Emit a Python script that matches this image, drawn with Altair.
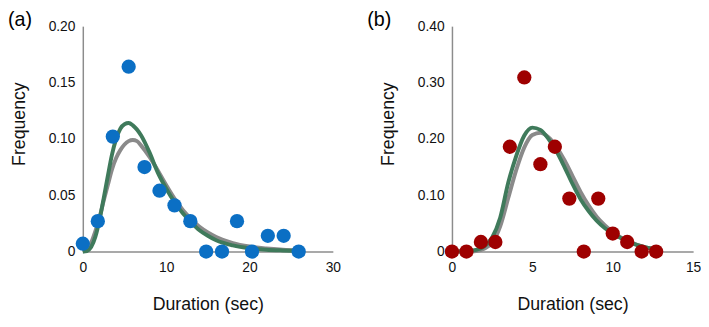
import altair as alt
import pandas as pd

# ---------- Panel (a) data ----------
a_pts_x = [0, 1.8, 3.6, 5.5, 7.4, 9.2, 11.0, 12.9, 14.8, 16.7, 18.5, 20.3, 22.2, 24.1, 25.9]
a_pts_y = [0.007, 0.027, 0.102, 0.164, 0.075, 0.054, 0.041, 0.027, 0, 0, 0.027, 0, 0.014, 0.014, 0]

a_green_x = [0, 0.5, 1, 1.5, 2, 2.5, 3, 3.5, 4, 4.5, 5, 5.5, 6, 7, 8, 9, 10, 11, 12, 13, 14, 15, 16, 18, 20, 22, 24, 26]
a_green_y = [0, 0.0005, 0.004, 0.013, 0.028, 0.047, 0.067, 0.086, 0.100, 0.109, 0.113, 0.114, 0.112, 0.103,
             0.088, 0.070, 0.056, 0.044, 0.034, 0.026, 0.019, 0.014, 0.010, 0.0055, 0.003, 0.0017, 0.001, 0.0005]

a_gray_x = [0, 0.5, 1, 1.5, 2, 2.5, 3, 3.5, 4, 4.5, 5, 5.5, 6, 6.5, 7, 8, 9, 10, 11, 12, 13, 14, 15, 16, 18, 20, 22, 24, 26]
a_gray_y = [0, 0.002, 0.008, 0.018, 0.030, 0.045, 0.059, 0.073, 0.083, 0.090, 0.095, 0.098, 0.099, 0.098,
            0.094, 0.084, 0.072, 0.059, 0.047, 0.037, 0.029, 0.022, 0.017, 0.013, 0.0075, 0.0045, 0.0028, 0.0017, 0.001]

# ---------- Panel (b) data ----------
b_pts_x = [0, 0.9, 1.8, 2.7, 3.6, 4.5, 5.5, 6.4, 7.3, 8.2, 9.1, 10.0, 10.9, 11.8, 12.7]
b_pts_y = [0, 0, 0.017, 0.017, 0.186, 0.309, 0.155, 0.186, 0.094, 0, 0.094, 0.032, 0.017, 0, 0]

b_green_x = [0, 1, 1.5, 2, 2.5, 3, 3.5, 4, 4.5, 5, 5.5, 6, 6.5, 7, 7.5, 8, 8.5, 9, 9.5, 10, 10.5, 11, 12, 13]
b_green_y = [0, 0.001, 0.003, 0.009, 0.025, 0.060, 0.122, 0.170, 0.206, 0.220, 0.216, 0.200, 0.178, 0.150,
             0.120, 0.093, 0.072, 0.055, 0.042, 0.032, 0.024, 0.017, 0.008, 0.003]

b_gray_x = [0, 1, 1.5, 2, 2.5, 3, 3.5, 4, 4.5, 5, 5.5, 6, 6.5, 7, 7.5, 8, 8.5, 9, 9.5, 10, 10.5, 11, 12, 13]
b_gray_y = [0, 0, 0.001, 0.005, 0.016, 0.045, 0.095, 0.145, 0.185, 0.207, 0.211, 0.203, 0.186, 0.162,
            0.134, 0.106, 0.082, 0.062, 0.047, 0.035, 0.025, 0.018, 0.008, 0.003]

a_xticks = [0, 10, 20, 30]
a_yticks = [0, 0.05, 0.10, 0.15, 0.20]
b_xticks = [0, 5, 10, 15]
b_yticks = [0, 0.10, 0.20, 0.30, 0.40]

panel_labels = ["(a)", "(b)"]
x_title = "Duration (sec)"
y_title = "Frequency"

FONT = "Liberation Sans"
GREEN = "#3f7a5b"
GRAY = "#8a8a8a"
BLUE = "#0b6fc4"
RED = "#9e0000"

label_expr = "datum.value == 0 ? '0' : format(datum.value, '.2f')"


def panel(px, py, gx, gy, rx, ry, xticks, yticks, pcolor, plabel, width, lab_x):
    xdom = [xticks[0], xticks[-1]]
    ydom = [yticks[0], yticks[-1]]
    xs = alt.Scale(domain=xdom, nice=False, zero=False)
    ys = alt.Scale(domain=ydom, nice=False)
    xaxis = alt.Axis(values=xticks, title=x_title, labelPadding=9, titlePadding=22, labelFlush=False)
    yaxis = alt.Axis(values=yticks, title=y_title, labelExpr=label_expr, labelPadding=8,
                     titlePadding=20, titleY=99, labelFlush=False)

    pts = pd.DataFrame({"x": px, "y": py})
    green = pd.DataFrame({"x": gx, "y": gy})
    gray = pd.DataFrame({"x": rx, "y": ry})
    lab = pd.DataFrame({"t": [plabel]})

    gray_line = alt.Chart(gray).mark_line(color=GRAY, strokeWidth=4, interpolate="monotone").encode(
        x=alt.X("x:Q", scale=xs, axis=xaxis), y=alt.Y("y:Q", scale=ys, axis=yaxis))
    green_line = alt.Chart(green).mark_line(color=GREEN, strokeWidth=4, interpolate="monotone").encode(
        x=alt.X("x:Q", scale=xs), y=alt.Y("y:Q", scale=ys))
    dots = alt.Chart(pts).mark_circle(color=pcolor, size=210, opacity=1).encode(
        x=alt.X("x:Q", scale=xs), y=alt.Y("y:Q", scale=ys))
    txt = alt.Chart(lab).mark_text(font=FONT, fontSize=20, align="left", baseline="top").encode(
        x=alt.value(lab_x), y=alt.value(-16), text="t:N")
    return alt.layer(gray_line, green_line, dots, txt).properties(width=width, height=229)


left = panel(a_pts_x, a_pts_y, a_green_x, a_green_y, a_gray_x, a_gray_y,
             a_xticks, a_yticks, BLUE, panel_labels[0], 254, -76)
right = panel(b_pts_x, b_pts_y, b_green_x, b_green_y, b_gray_x, b_gray_y,
              b_xticks, b_yticks, RED, panel_labels[1], 245, -86)

chart = alt.hconcat(left, right, spacing=27).properties(padding=0).configure_view(
    stroke=None
).configure_axis(
    grid=False, ticks=False, tickSize=0, domainColor="#8c8c8c", domainWidth=1.5,
    labelFont=FONT, labelFontSize=14, labelColor="#111111",
    titleFont=FONT, titleFontSize=18, titleFontWeight="normal", titleColor="#111111",
)

chart.save("out.html", embed_options={"renderer": "svg", "actions": False})
